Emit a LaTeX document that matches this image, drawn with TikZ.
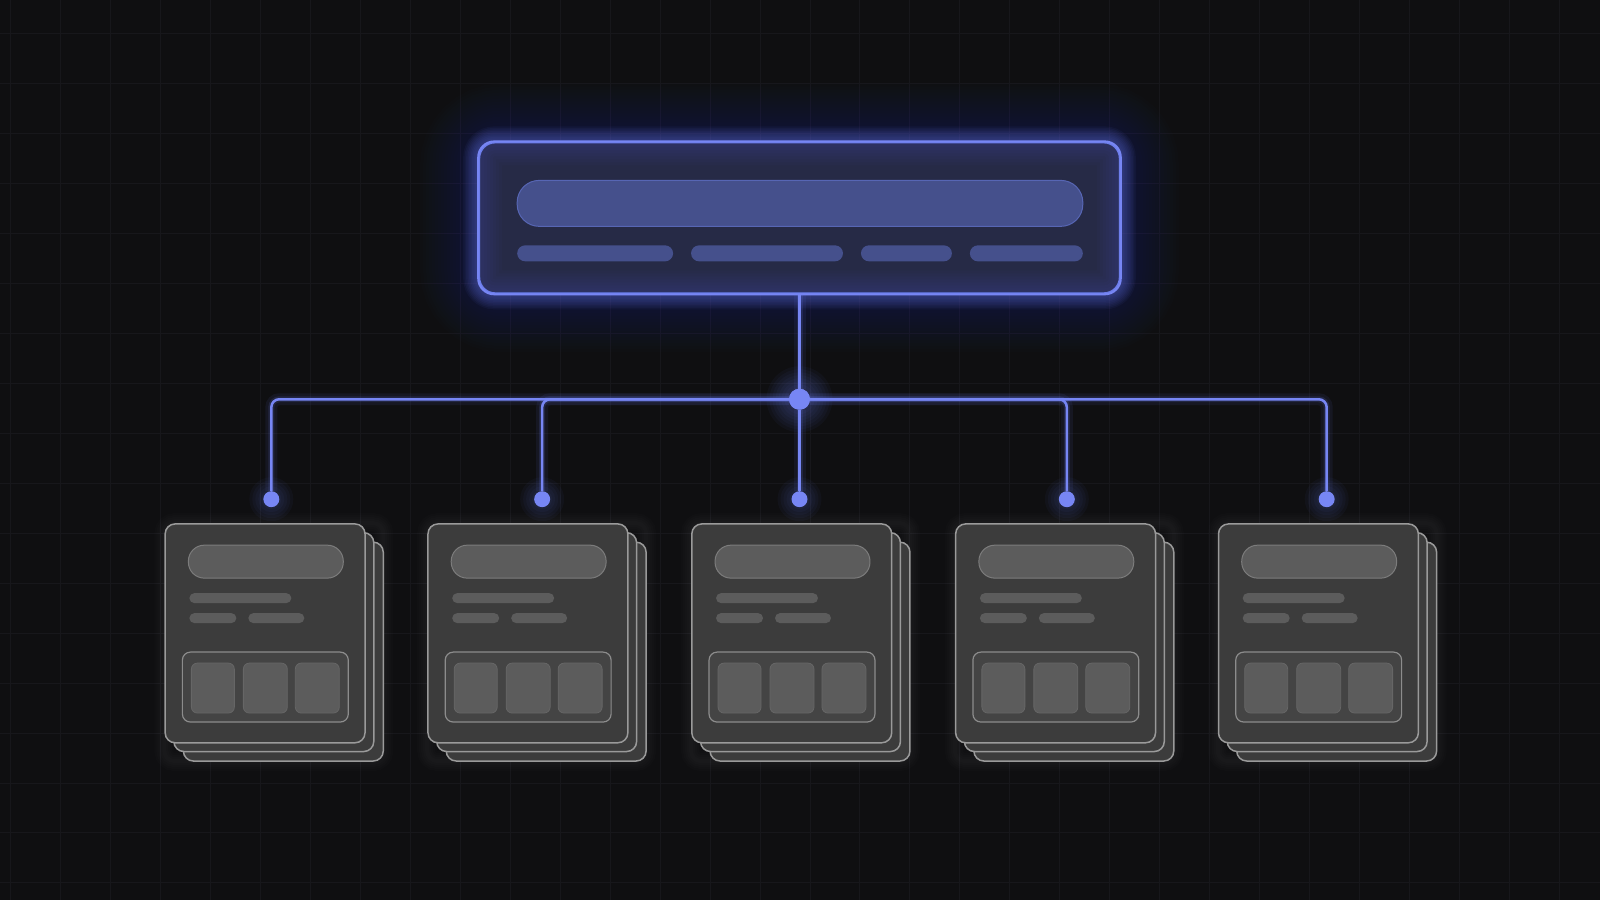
\documentclass[tikz,border=0pt]{standalone}
\usetikzlibrary{backgrounds}
\definecolor{bg}{HTML}{0F0F11}
\definecolor{gridc}{HTML}{17171B}
\definecolor{blueln}{HTML}{7786F4}
\definecolor{glowc}{HTML}{5566DD}
\definecolor{glowbright}{HTML}{6A7CF0}
\definecolor{topfill}{HTML}{262A46}
\definecolor{barfill}{HTML}{45508C}
\definecolor{barline}{HTML}{5766B4}
\definecolor{cardfill}{HTML}{3C3C3C}
\definecolor{cardline}{HTML}{9A9A9A}
\definecolor{elfill}{HTML}{5C5C5C}
\definecolor{elline}{HTML}{7C7C7C}
\definecolor{panelfill}{HTML}{444444}
\definecolor{panelline}{HTML}{8C8C8C}
\definecolor{tileline}{HTML}{666666}
\pgfdeclarelayer{bgl}
\pgfdeclarelayer{glow}
\pgfsetlayers{bgl,glow,main}
\tikzset{
 topbox/.style={draw=blueln, line width=2pt, fill=topfill, rounded corners=16pt, inner sep=0pt, minimum width=641pt, minimum height=151pt},
 bigbar/.style={fill=barfill, draw=barline, line width=1pt, rounded corners=22pt},
 smallbar/.style={fill=barfill, rounded corners=8pt},
 card/.style={draw=cardline, line width=1.5pt, fill=cardfill, rounded corners=10pt, inner sep=0pt, minimum width=200pt, minimum height=219pt},
 cardlayer/.style={draw=cardline, line width=1.5pt, fill=cardfill, rounded corners=10pt},
 pill/.style={fill=elfill, draw=elline, line width=1pt, rounded corners=16pt},
 txtline/.style={fill=elfill, rounded corners=5pt},
 panel/.style={fill=panelfill, draw=panelline, line width=1.2pt, rounded corners=8pt},
 tile/.style={fill=elfill, draw=tileline, line width=0.8pt, rounded corners=6pt},
 dotn/.style={circle, fill=blueln, inner sep=0pt, minimum size=16pt},
 hubn/.style={circle, fill=blueln, inner sep=0pt, minimum size=21pt},
 conn/.style={draw=blueln, line width=2.5pt, rounded corners=8pt,
   preaction={draw=glowbright, line width=12pt, opacity=0.08},
   preaction={draw=glowbright, line width=6pt, opacity=0.15}},
}
\begin{document}
\begin{tikzpicture}[x=1pt,y=-1pt]
\begin{pgfonlayer}{bgl}
\fill[bg] (0,0) rectangle (1600,900);
\foreach \gx in {10,60,...,1600} \draw[gridc, line width=1pt] (\gx,0) -- (\gx,900);
\foreach \gy in {33,83,...,900} \draw[gridc, line width=1pt] (0,\gy) -- (1600,\gy);
\end{pgfonlayer}
\useasboundingbox (0,0) rectangle (1600,900);

% top box
\node[topbox] (top) at (799.5,217.5) {};
\begin{pgfonlayer}{glow}
\foreach \w in {20,26,...,116}
  \draw[glowc, line width=\w pt, opacity=0.012, rounded corners=24pt] (top.north west) rectangle (top.south east);
\foreach \w in {3,6,...,30}
  \draw[glowbright, line width=\w pt, opacity=0.05, rounded corners=16pt] (top.north west) rectangle (top.south east);
\end{pgfonlayer}
\begin{scope}
\clip[rounded corners=16pt] (top.north west) rectangle (top.south east);
\foreach \w in {6,12,...,48}
  \draw[glowc, line width=\w pt, opacity=0.03, rounded corners=16pt] (top.north west) rectangle (top.south east);
\end{scope}
\draw[blueln, line width=2pt, rounded corners=16pt] (top.north west) rectangle (top.south east);
\draw[bigbar] ([shift={(39,39)}]top.north west) rectangle ([shift={(605,85)}]top.north west);
\fill[smallbar] ([shift={(39,104)}]top.north west) rectangle ([shift={(195,120)}]top.north west);
\fill[smallbar] ([shift={(213,104)}]top.north west) rectangle ([shift={(365,120)}]top.north west);
\fill[smallbar] ([shift={(383,104)}]top.north west) rectangle ([shift={(474,120)}]top.north west);
\fill[smallbar] ([shift={(492,104)}]top.north west) rectangle ([shift={(605,120)}]top.north west);

% hub
\node[hubn] (hub) at (799.5,399) {};
\begin{pgfonlayer}{glow}
\foreach \r in {12,15,...,33} \fill[glowbright, opacity=0.045] (hub) circle (\r pt);
\end{pgfonlayer}
\draw[conn] (top.south) -- (hub);

% cards and branches
\foreach \i/\L/\D in {1/164/271,2/427/542,3/691/799.5,4/955/1067,5/1218/1327}{
  \begin{pgfonlayer}{glow}
  \foreach \w in {4,8,...,20}
    \draw[white, opacity=0.01, line width=\w pt, rounded corners=10pt] (\L,523) rectangle (\L+219,761);
  \end{pgfonlayer}
  \foreach \o in {19,9.5}
    \draw[cardlayer] (\L+\o,523+\o) rectangle (\L+200+\o,742+\o);
  \node[card, anchor=north west] (card\i) at (\L,523) {};
  \draw[pill] ([shift={(24,22)}]card\i.north west) rectangle ([shift={(179,55)}]card\i.north west);
  \fill[txtline] ([shift={(25,70)}]card\i.north west) rectangle ([shift={(127,80)}]card\i.north west);
  \fill[txtline] ([shift={(25,90)}]card\i.north west) rectangle ([shift={(72,100)}]card\i.north west);
  \fill[txtline] ([shift={(84,90)}]card\i.north west) rectangle ([shift={(140,100)}]card\i.north west);
  \draw[panel] ([shift={(18,129)}]card\i.north west) rectangle ([shift={(184,199)}]card\i.north west);
  \draw[tile] ([shift={(27,140)}]card\i.north west) rectangle ([shift={(70,190)}]card\i.north west);
  \draw[tile] ([shift={(79,140)}]card\i.north west) rectangle ([shift={(123,190)}]card\i.north west);
  \draw[tile] ([shift={(131,140)}]card\i.north west) rectangle ([shift={(175,190)}]card\i.north west);
  \node[dotn] (dot\i) at (\D,499) {};
  \begin{pgfonlayer}{glow}
  \foreach \r in {10,13,...,22} \fill[glowbright, opacity=0.045] (dot\i) circle (\r pt);
  \end{pgfonlayer}
}
\draw[conn] (hub) -- (hub -| dot1) -- (dot1);
\draw[conn] (hub) -- (hub -| dot2) -- (dot2);
\draw[conn] (hub) -- (dot3);
\draw[conn] (hub) -- (hub -| dot4) -- (dot4);
\draw[conn] (hub) -- (hub -| dot5) -- (dot5);
\node[hubn] (hubcap) at (hub) {};
\end{tikzpicture}
\end{document}
